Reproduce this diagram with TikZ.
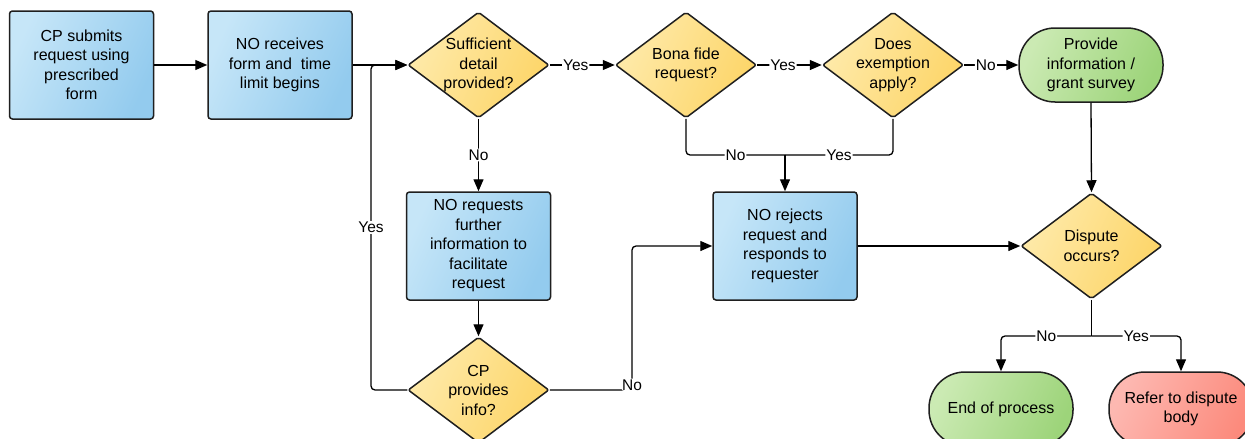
\documentclass[tikz,border=0pt]{standalone}
\usepackage{fontspec}
\setmainfont{Liberation Sans}
\usetikzlibrary{shapes.geometric,arrows.meta,calc}
\definecolor{blueL}{HTML}{C6E6F8}
\definecolor{blueR}{HTML}{93CBEE}
\definecolor{yelL}{HTML}{FEEAAA}
\definecolor{yelR}{HTML}{FDD568}
\definecolor{grnL}{HTML}{CBEAB3}
\definecolor{grnR}{HTML}{9DD47A}
\definecolor{redL}{HTML}{FDB8B1}
\definecolor{redR}{HTML}{FC8A7C}
\begin{document}
\begin{tikzpicture}[x=1pt,y=-1pt,
  font=\fontsize{16}{19.5}\selectfont,
  base/.style={draw=black!88, line width=1.5pt},
  grad/.style 2 args={left color=#1, right color=#2, shading angle=65},
  proc/.style={base, rectangle, rounded corners=3pt, minimum width=144pt,
    minimum height=108pt, grad={blueL}{blueR}, align=center},
  dec/.style={base, diamond, rounded corners=2pt, minimum width=141pt,
    minimum height=106pt, inner sep=0pt, grad={yelL}{yelR}},
  dectext/.style={align=center, inner sep=0pt},
  term/.style={base, rectangle, rounded corners=36pt, minimum width=144pt,
    minimum height=74pt, align=center},
  okterm/.style={term, grad={grnL}{grnR}},
  badterm/.style={term, grad={redL}{redR}},
  link/.style={line width=1.3pt, rounded corners=4pt},
  flow/.style={link, -{Triangle[length=12pt,width=10pt]}},
  lbl/.style={fill=white, inner sep=1pt, font=\fontsize{15.5}{18}\selectfont}
]
\useasboundingbox[fill=white] (0,0) rectangle (1245,439);

% process boxes
\node[proc] (cp)  at (81.5,65) {CP submits\\request using\\prescribed\\form};
\node[proc] (rcv) at (280,65)  {NO receives\\form and~ time\\limit begins};
\node[proc] (ask) at (478.5,246) {NO requests\\further\\information to\\facilitate\\request};
\node[proc] (rej) at (785,246) {NO rejects\\request and\\responds to\\requester};

% decisions
\node[dec] (suff) at (478.5,65) {};
\node[dectext] (sufft) at (suff) {Sufficient\\detail\\provided?};
\node[dec] (bona) at (686,65) {};
\node[dectext] (bonat) at (bona) {Bona fide\\request?};
\node[dec] (exem) at (893,65) {};
\node[dectext] (exemt) at (exem) {Does\\exemption\\apply?};
\node[dec] (cpi) at (478.5,390) {};
\node[dectext] (cpit) at (cpi) {CP\\provides\\info?};
\node[dec] (disp) at (1091.5,246) {};
\node[dectext] (dispt) at (disp) {Dispute\\occurs?};

% terminals
\node[okterm] (prov) at (1091,65) {Provide\\information /\\grant survey};
\node[okterm] (done) at (1001,409) {End of process};
\node[badterm] (refer) at (1181,409) {Refer to dispute\\body};

% routing points
\coordinate (loopx) at (371,0);
\coordinate (nox) at (632,0);
\coordinate (merge) at (785,155);
\coordinate (split) at (1091.5,336);

% connectors
\draw[flow] (cp) -- (rcv);
\draw[flow] (rcv) -- (suff.west);
\draw[flow] (suff.east) -- node[lbl,pos=0.4] {Yes} (bona.west);
\draw[flow] (bona.east) -- node[lbl,pos=0.4] {Yes} (exem.west);
\draw[flow] (exem.east) -- node[lbl,pos=0.4] {No} (prov.west);
\draw[flow] (suff.south) -- node[lbl] {No} (ask.north);
\draw[flow] (ask.south) -- (cpi.north);
\draw[flow] (cpi.west) -- (cpi.west -| loopx)
  -- node[lbl,pos=0.5] {Yes} (loopx |- suff.west) -- (suff.west);
\draw[flow] (cpi.east) -- (cpi.east -| nox)
  -- node[lbl,pos=0.035] {No} (nox |- rej.west) -- (rej.west);
\draw[link] (bona.south) |- node[lbl,pos=0.75] {No} (merge);
\draw[link] (exem.south) |- node[lbl,pos=0.75] {Yes} (merge);
\draw[flow] (merge) -- (rej.north);
\draw[flow] (rej.east) -- (disp.west);
\draw[flow] (prov.south) -- (disp.north);
\draw[link] (disp.south) -- (split);
\draw[flow] (split) -| node[lbl,pos=0.25] {No} (done.north);
\draw[flow] (split) -| node[lbl,pos=0.25] {Yes} (refer.north);
\end{tikzpicture}
\end{document}
